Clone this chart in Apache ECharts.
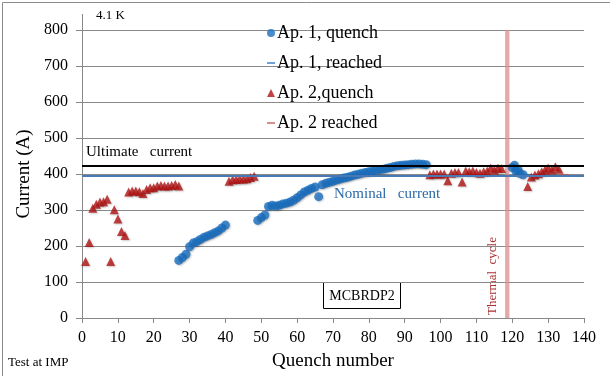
<!DOCTYPE html>
<html><head><meta charset="utf-8">
<script src="https://cdn.jsdelivr.net/npm/echarts@6/dist/echarts.min.js"></script>
<style>html,body{margin:0;padding:0;background:#fff}#c{width:610px;height:376px}</style>
</head><body><div id="c"></div>
<script>
// ---- data ----
const xMin = 0, xMax = 140, xStep = 10;
const yMin = 0, yMax = 800, yStep = 100;
const ap1Quench = [
  [27,160],[28,168],[29,177],[30,198],[31,208],[32,212],[33,218],[34,224],[35,228],[36,232],[37,237],[38,242],[39,250],[40,258],
  [49,271],[50,279],[51,286],[52,310],[53,313],[54,311],[55,313],[56,317],[57,319],[58,322],[59,327],[60,334],[61,342],[62,350],[63,355],[64,360],[65,364],[66,337],
  [67,370],[68,374],[69,377],[70,380],[71,383],[72,386],[73,389],[74,391],[75,394],[76,397],[77,399],[78,402],[79,404],[80,406],[81,408],[82,410],
  [83,412],[84,413],[85,416],[86,418],[87,421],[88,423],[89,424],[90,425],[91,426],[92,427],[93,428],[94,428],[95,427],[96,426],
  [120,418],[120.6,424],[121,408],[121.6,412],[122,402],[123,398]
];
const ap1Reached = [[123.8,396]];
const ap2Quench = [
  [1,157],[2,210],[3,305],[4,316],[5,322],[6,323],[7,330],[8,157],[9,301],[10,275],[11,240],[12,229],
  [13,350],[14,353],[15,353],[16,351],[17,346],[18,357],[19,362],[20,362],[21,367],[22,368],[23,367],[24,367],[25,368],[26,371],[27,367],
  [41,380],[42,384],[43,385],[44,386],[45,386],[46,387],[47,390],[48,394],
  [97,398],[98,400],[99,400],[100,400],[101,400],[102,381],[103,402],[104,404],[105,404],[106,378],[107,408],[108,406],[109,408],
  [110,404],[111,402],[112,406],[113,408],[114,417],[115,411],[116,417],[117,415],
  [124.3,365],[125.3,392],[126.3,397],[127.3,401],[128.2,406],[129.1,411],[130,417],[131,411],[132,420],[133,413]
];
const ap2Reached = [[134.5,396]];
const ultimateCurrent = 422;
const nominalCurrent = 394;
const thermalCycleRange = [118.0, 119.2];

const serif = 'Liberation Serif';
const blue = '#1a6fc0', red = '#b01414';
const dashIcon = 'path://M0,3.4h8v1.6h-8z';

const chart = echarts.init(document.getElementById('c'));
chart.setOption({
  animation: false,
  backgroundColor: '#fff',
  grid: { left: 82, right: 26, top: 30, bottom: 55 },
  xAxis: {
    type: 'value', min: xMin, max: xMax, interval: xStep,
    name: 'Quench number', nameLocation: 'middle', nameGap: 34,
    nameTextStyle: { fontFamily: serif, fontSize: 19, color: '#000' },
    axisLine: { show: true, onZero: false, lineStyle: { color: '#888' } },
    axisTick: { show: true, length: 5, lineStyle: { color: '#888' } },
    axisLabel: { fontFamily: serif, fontSize: 16, color: '#000', margin: 12 },
    splitLine: { show: false }
  },
  yAxis: {
    type: 'value', min: yMin, max: yMax, interval: yStep,
    name: 'Current (A)', nameLocation: 'middle', nameGap: 48,
    nameTextStyle: { fontFamily: serif, fontSize: 19, color: '#000' },
    axisLine: { show: true, lineStyle: { color: '#888' } },
    axisTick: { show: true, length: 6, lineStyle: { color: '#888' } },
    axisLabel: { fontFamily: serif, fontSize: 16, color: '#000', margin: 14 },
    splitLine: { show: true, lineStyle: { color: '#8a8a8a', width: 1 } }
  },
  legend: {
    orient: 'vertical', left: 262, top: 19, itemGap: 12,
    itemWidth: 8, itemHeight: 8,
    textStyle: { fontFamily: serif, fontSize: 18, color: '#000', padding: [0,0,0,-3] },
    data: [
      { name: 'Ap. 1, quench', icon: 'circle' },
      { name: 'Ap. 1, reached', icon: dashIcon },
      { name: 'Ap. 2,quench', icon: 'triangle' },
      { name: 'Ap. 2 reached', icon: dashIcon }
    ]
  },
  series: [
    {
      name: 'thermal', type: 'line', data: [], silent: true,
      markArea: {
        silent: true,
        itemStyle: { color: 'rgba(222,140,140,0.75)' },
        data: [[{ xAxis: thermalCycleRange[0], yAxis: yMin }, { xAxis: thermalCycleRange[1], yAxis: yMax }]]
      }
    },
    {
      name: 'limits', type: 'line', data: [], silent: true,
      markLine: {
        silent: true, symbol: 'none', label: { show: false },
        data: [
          { yAxis: ultimateCurrent, lineStyle: { color: '#000', width: 2, type: 'solid' } },
          { yAxis: nominalCurrent, lineStyle: { color: '#4a78b5', width: 2, type: 'solid' } }
        ]
      }
    },
    {
      name: 'Ap. 1, quench', type: 'scatter', symbol: 'circle', symbolSize: 9,
      itemStyle: { color: blue, shadowColor: 'rgba(0,0,0,0.25)', shadowBlur: 2, shadowOffsetX: 1, shadowOffsetY: 1 },
      data: ap1Quench
    },
    {
      name: 'Ap. 1, reached', type: 'scatter', symbol: dashIcon, symbolSize: [9, 3],
      itemStyle: { color: blue }, data: ap1Reached
    },
    {
      name: 'Ap. 2,quench', type: 'scatter', symbol: 'triangle', symbolSize: 9,
      itemStyle: { color: red, shadowColor: 'rgba(0,0,0,0.25)', shadowBlur: 2, shadowOffsetX: 1, shadowOffsetY: 1 },
      data: ap2Quench
    },
    {
      name: 'Ap. 2 reached', type: 'scatter', symbol: dashIcon, symbolSize: [9, 3],
      itemStyle: { color: '#c0504d' }, data: ap2Reached
    }
  ],
  graphic: [
    { type: 'rect', left: 0, top: 0, shape: { x: 0.5, y: 0.5, width: 609, height: 375 }, style: { fill: 'none', stroke: '#8c8c8c', lineWidth: 1 }, silent: true },
    { type: 'line', shape: { x1: 82.5, y1: 14, x2: 82.5, y2: 30 }, style: { stroke: '#888', lineWidth: 1 } },
    { type: 'text', left: 96, top: 9, style: { text: '4.1 K', font: '13px "Liberation Serif"', fill: '#000' } },
    { type: 'text', left: 86, top: 145, style: { text: 'Ultimate   current', font: '15px "Liberation Serif"', fill: '#000' } },
    { type: 'text', left: 334, top: 187, style: { text: 'Nominal   current', font: '15px "Liberation Serif"', fill: '#2a6aa8' } },
    { type: 'text', x: 493, y: 276, rotation: Math.PI / 2, style: { text: 'Thermal  cycle', font: '13px "Liberation Serif"', fill: '#a83030', align: 'center', verticalAlign: 'middle' } },
    { type: 'rect', shape: { x: 323.5, y: 282.5, width: 77, height: 26 }, style: { fill: '#fff', stroke: '#000', lineWidth: 1 } },
    { type: 'text', x: 362, y: 296, style: { text: 'MCBRDP2', font: '14px "Liberation Serif"', fill: '#000', align: 'center', verticalAlign: 'middle' } },
    { type: 'text', left: 8, top: 356, style: { text: 'Test at IMP', font: '13px "Liberation Serif"', fill: '#000' } }
  ]
});
</script></body></html>
